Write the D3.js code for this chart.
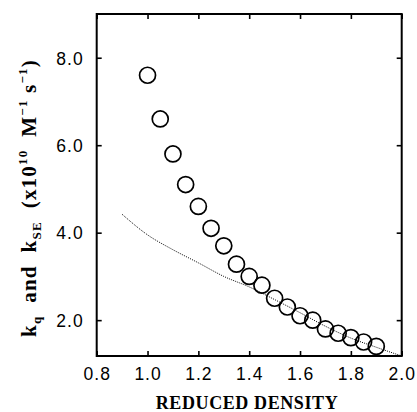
<!DOCTYPE html>
<html><head><meta charset="utf-8">
<script src="https://cdn.jsdelivr.net/npm/d3@7"></script>
<style>body{margin:0;background:#fff}svg{display:block}</style>
</head><body>
<script>
const densities = [1.0,1.05,1.1,1.15,1.2,1.25,1.3,1.35,1.4,1.45,1.5,1.55,1.6,1.65,1.7,1.75,1.8,1.85,1.9];
const kq = [7.6,6.6,5.8,5.1,4.6,4.1,3.7,3.28,3.0,2.8,2.5,2.3,2.1,2.0,1.8,1.7,1.6,1.5,1.4];
const seDensity = [0.9,1.0,1.1,1.2,1.3,1.4,1.5,1.6,1.7,1.8,1.9,2.0];
const kSE = [4.42,3.95,3.61,3.31,3.0,2.76,2.47,2.17,1.86,1.59,1.38,1.18];
const xTicks = [0.8,1.0,1.2,1.4,1.6,1.8,2.0];
const yTicks = [2.0,4.0,6.0,8.0];

const W=417,H=412;
const m={l:96.7,r:401.7,t:14,b:356};
const svg=d3.select("body").append("svg").attr("width",W).attr("height",H);
const x=d3.scaleLinear().domain([0.8,2.0]).range([m.l,m.r]);
const y=d3.scaleLinear().domain([1.18,9.0]).range([m.b,m.t]);

const tl=5;
const axB=d3.axisBottom(x).tickValues(xTicks).tickSize(0).tickPadding(0).tickFormat(d3.format(".1f"));
const axL=d3.axisLeft(y).tickValues(yTicks).tickSize(0).tickPadding(0).tickFormat(d3.format(".1f"));

// inner ticks
const gT=svg.append("g");
gT.append("g").attr("transform",`translate(0,${m.b})`).call(d3.axisTop(x).tickValues(xTicks).tickSize(tl).tickFormat(""));
gT.append("g").attr("transform",`translate(0,${m.t})`).call(d3.axisBottom(x).tickValues(xTicks).tickSize(tl).tickFormat(""));
gT.append("g").attr("transform",`translate(${m.l},0)`).call(d3.axisRight(y).tickValues(yTicks).tickSize(tl).tickFormat(""));
gT.append("g").attr("transform",`translate(${m.r},0)`).call(d3.axisLeft(y).tickValues(yTicks).tickSize(tl).tickFormat(""));
gT.selectAll(".domain").remove();
gT.selectAll("line").attr("stroke","#000").attr("stroke-width",1.6);

// labels
const gx=svg.append("g").attr("transform",`translate(0,${m.b+24})`).call(axB);
gx.select(".domain").remove();
gx.selectAll("text").attr("dy",0).attr("y",0).attr("font-family","Liberation Sans, Arial, sans-serif").attr("font-size",17.5).attr("letter-spacing","1px").attr("fill","#000");
const gy=svg.append("g").attr("transform",`translate(${m.l-13},0)`).call(axL);
gy.select(".domain").remove();
gy.selectAll("text").attr("dy","0.36em").attr("font-family","Liberation Sans, Arial, sans-serif").attr("font-size",17.5).attr("letter-spacing","1px").attr("fill","#000");

// frame
svg.append("rect").attr("x",m.l).attr("y",m.t).attr("width",m.r-m.l).attr("height",m.b-m.t)
  .attr("fill","none").attr("stroke","#000").attr("stroke-width",2);

// SE dotted line
const line=d3.line().x((d,i)=>x(seDensity[i])).y(d=>y(d)).curve(d3.curveMonotoneX);
svg.append("path").attr("d",line(kSE)).attr("fill","none").attr("stroke","#000").attr("stroke-width",1).attr("stroke-dasharray","1,1.2");

// circles
svg.append("g").selectAll("circle").data(kq).join("circle")
  .attr("cx",(d,i)=>x(densities[i])).attr("cy",d=>y(d)).attr("r",8)
  .attr("fill","none").attr("stroke","#000").attr("stroke-width",1.7);

// x title
svg.append("text").attr("x",247).attr("y",409).attr("text-anchor","middle")
  .attr("font-family","Liberation Serif, Times New Roman, serif").attr("font-weight","bold")
  .attr("font-size",18).attr("letter-spacing","0.6px").text("REDUCED DENSITY");

// y title
const yt=svg.append("text").attr("transform",`translate(36,${198}) rotate(-90)`).attr("text-anchor","middle")
  .attr("font-family","Liberation Serif, Times New Roman, serif").attr("font-weight","bold").attr("font-size",21)
  .attr("letter-spacing","1.2px").attr("xml:space","preserve").style("white-space","pre");
yt.append("tspan").text("k");
yt.append("tspan").attr("font-size",13).attr("dy",5).text("q");
yt.append("tspan").attr("dy",-5).text("  and  k");
yt.append("tspan").attr("font-size",13).attr("dy",5).text("SE");
yt.append("tspan").attr("dy",-5).text("  (x10");
yt.append("tspan").attr("font-size",13).attr("dy",-9).text("10");
yt.append("tspan").attr("dy",9).text("  M");
yt.append("tspan").attr("font-size",13).attr("dy",-9).text("−1");
yt.append("tspan").attr("dy",9).text(" s");
yt.append("tspan").attr("font-size",13).attr("dy",-9).text("−1");
yt.append("tspan").attr("dy",9).text(")");
</script>
</body></html>
